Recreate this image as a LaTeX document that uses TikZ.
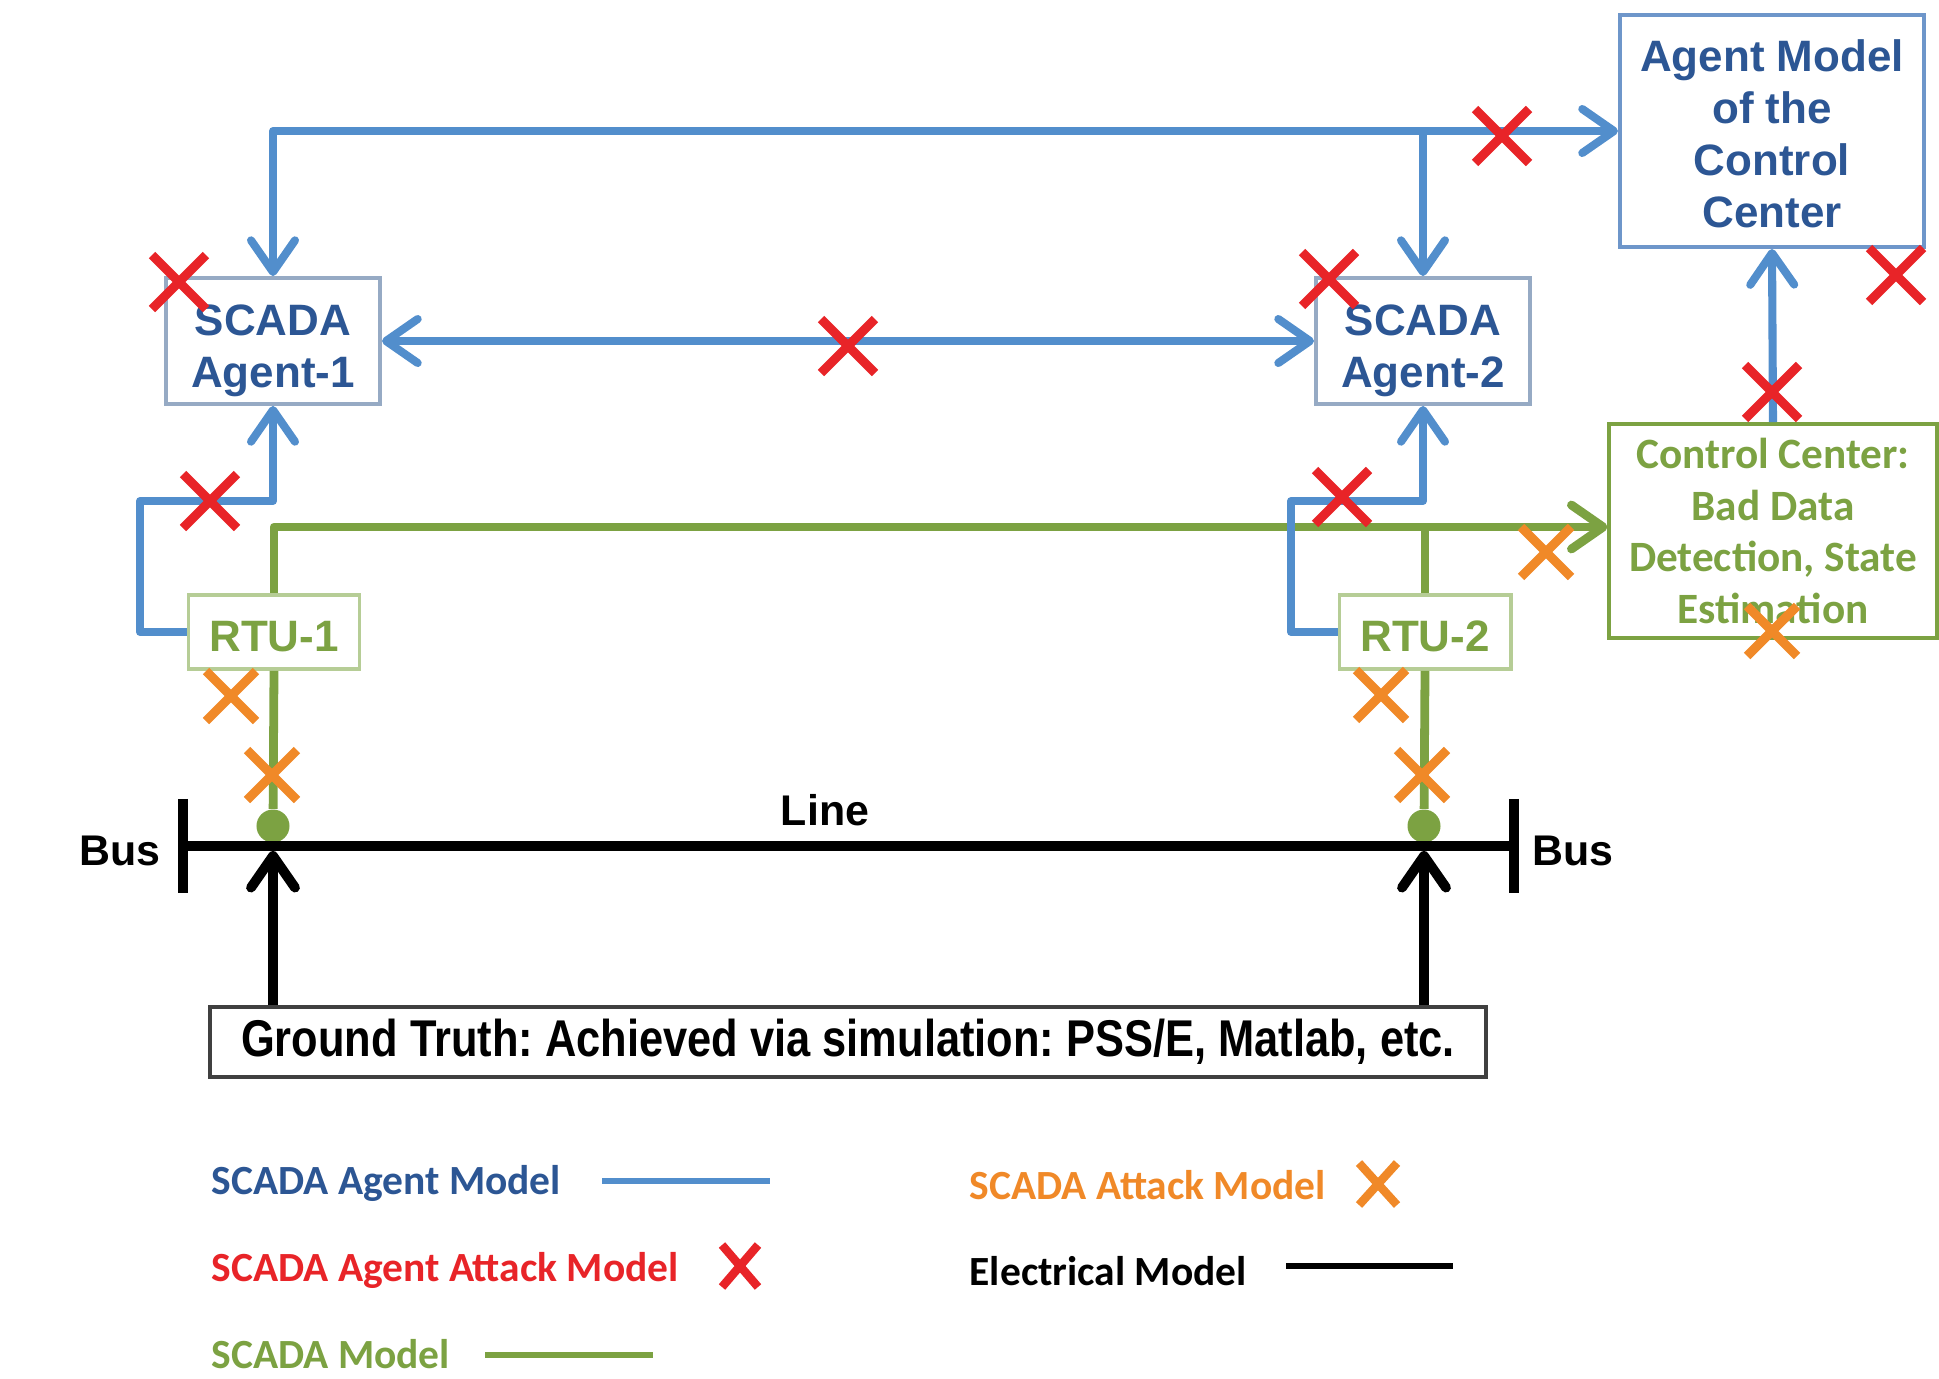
\documentclass[tikz,border=0pt]{standalone}
\usepackage{fontspec}
\setmainfont{Liberation Sans}
\newfontfamily\calibri{Carlito}
\newfontfamily\narrowsans[FakeStretch=0.84]{Liberation Sans}
\usetikzlibrary{arrows.meta}
\frenchspacing

\definecolor{agentblue}{RGB}{82,142,204}
\definecolor{agenttext}{RGB}{44,86,148}
\definecolor{agentframe}{RGB}{150,170,196}
\definecolor{ccframe}{RGB}{110,150,202}
\definecolor{scadagreen}{RGB}{124,162,66}
\definecolor{rtuframe}{RGB}{182,205,150}
\definecolor{attackred}{RGB}{232,36,40}
\definecolor{attackorange}{RGB}{240,137,40}

\tikzset{
  >={Straight Barb[length=9pt,width=12.5pt,round]},
  agentline/.style={draw=agentblue,line width=2.3pt,line join=round},
  scadaline/.style={draw=scadagreen,line width=2.5pt,line join=round},
  busline/.style={draw=black,line width=2.8pt},
  boxfont/.style={font=\fontsize{12.5}{14.8}\selectfont\bfseries},
  framebox/.style={boxfont,draw=agentframe,line width=1.1pt,fill=white,
    text=agenttext,align=center,inner sep=0pt},
  agentbox/.style={framebox,minimum width=2.14cm,minimum height=1.26cm},
  rtubox/.style={boxfont,draw=rtuframe,line width=1.1pt,fill=white,
    text=scadagreen,inner sep=0pt,minimum width=1.71cm,minimum height=0.74cm,
    execute at begin node={\rule{0pt}{11pt}}},
  tapdot/.style={circle,fill=scadagreen,inner sep=0pt,minimum size=0.33cm},
  redcross/.style={draw=attackred,line width=2.6pt},
  orangecross/.style={draw=attackorange,line width=2.6pt},
  legendtext/.style={anchor=west,inner sep=0pt,
    font=\calibri\fontsize{11.8}{14}\selectfont\bfseries}
}

\begin{document}
\begin{tikzpicture}[x=0.01cm,y=-0.01cm]
\useasboundingbox (0,0) rectangle (1939,1378);

% agents and control center
\node[agentbox] (ag1) at (273,341) {\rule{0pt}{14.5pt}SCADA\\Agent-1};
\node[agentbox] (ag2) at (1423,341) {\rule{0pt}{14.5pt}SCADA\\Agent-2};
\node[framebox,draw=ccframe,minimum width=3.04cm,minimum height=2.32cm] (acc)
  at (1772,131) {\rule{0pt}{10.8pt}Agent Model\\of the\\Control\\Center};
\node[draw=scadagreen,line width=1.1pt,fill=white,text=scadagreen,align=center,
  inner sep=0pt,minimum width=3.27cm,minimum height=2.14cm,
  font=\calibri\fontsize{12.3}{14.7}\selectfont\bfseries] (cc)
  at (1773,531) {Control Center:\\Bad Data\\Detection, State\\Estimation};

% RTUs
\node[rtubox] (rtu1) at (274,632) {RTU-1};
\node[rtubox] (rtu2) at (1425,632) {RTU-2};

% ground truth
\node[draw=black!75,line width=1.3pt,minimum width=12.75cm,minimum height=0.7cm,
  inner sep=0pt,font=\narrowsans\fontsize{14.7}{16}\selectfont\bfseries] (gt)
  at (848,1042) {Ground Truth: Achieved via simulation: PSS/E, Matlab, etc.};

% SCADA measurements
\node[tapdot] (dot1) at (273,826) {};
\node[tapdot] (dot2) at (1424,826) {};
\draw[scadaline,->] (rtu1.north) |- ([yshift=0.04cm]cc.west);
\draw[scadaline] (rtu2.north) -- ([yshift=0.04cm]rtu2.north |- cc.west);
\draw[scadaline] (rtu1.south) -- (dot1);
\draw[scadaline] (rtu2.south) -- (dot2);

% SCADA agent links
\draw[agentline,<->] (ag1.north) |- (acc.west);
\draw[agentline,->] (ag2.north |- acc.west) -- (ag2.north);
\draw[agentline,<->] (ag1.east) -- (ag2.west);
\draw[agentline,->] (cc.north) -- (acc.south);
\coordinate (bend1) at (140,501);
\coordinate (bend2) at (1291,501);
\draw[agentline,->] (rtu1.west) -| (bend1) -| (ag1.south);
\draw[agentline,->] (rtu2.west) -| (bend2) -| (ag2.south);

% electrical line between the buses
\coordinate (busl) at (183,846);
\coordinate (busr) at (1514,846);
\draw[busline] (busl) -- (busr);
\draw[busline] ([yshift=0.47cm]busl) -- ([yshift=-0.47cm]busl);
\draw[busline] ([yshift=0.47cm]busr) -- ([yshift=-0.47cm]busr);
\node[font=\fontsize{12.2}{14}\selectfont\bfseries] (busa) at (120,851) {Bus};
\node[font=\fontsize{12.2}{14}\selectfont\bfseries] (busb) at (1573,851) {Bus};
\node[font=\fontsize{12.2}{14}\selectfont\bfseries] (linelbl) at (825,810) {Line};
\draw[busline,->] (gt.north -| dot1) -- ([yshift=-0.05cm]dot1 |- busl);
\draw[busline,->] (gt.north -| dot2) -- ([yshift=-0.05cm]dot2 |- busl);

% attack points
\foreach \cx/\cy in {179/282,1329/279,848/346,1502/136,1896/275,1772/392,
    210/501,1342/497}
  \draw[redcross] (\cx,\cy) +(-27,-27) -- +(27,27) +(-27,27) -- +(27,-27);
\foreach \cx/\cy in {1546/552,1772/631,231/696,272/775,1381/695,1422/775}
  \draw[orangecross] (\cx,\cy) +(-25,-25) -- +(25,25) +(-25,25) -- +(25,-25);

% legend
\node[legendtext,text=agenttext] (lgagent) at (211,1183) {SCADA Agent Model};
\node[legendtext,text=attackred] (lgagentx) at (211,1270) {SCADA Agent Attack Model};
\node[legendtext,text=scadagreen] (lgscada) at (211,1354) {SCADA Model};
\node[legendtext,text=attackorange] (lgattack) at (969,1185) {SCADA Attack Model};
\node[legendtext] (lgelec) at (969,1271) {Electrical Model};
\draw[agentline,line width=1.8pt] (602,1181) -- (770,1181);
\draw[scadaline,line width=1.8pt] (485,1355) -- (653,1355);
\draw[busline,line width=1.8pt] (1286,1266) -- (1453,1266);
\draw[redcross,line width=2.4pt] (740,1266) +(-18,-21) -- +(18,21) +(-18,21) -- +(18,-21);
\draw[orangecross,line width=2.4pt] (1378,1184) +(-19,-21) -- +(19,21) +(-19,21) -- +(19,-21);
\end{tikzpicture}
\end{document}
